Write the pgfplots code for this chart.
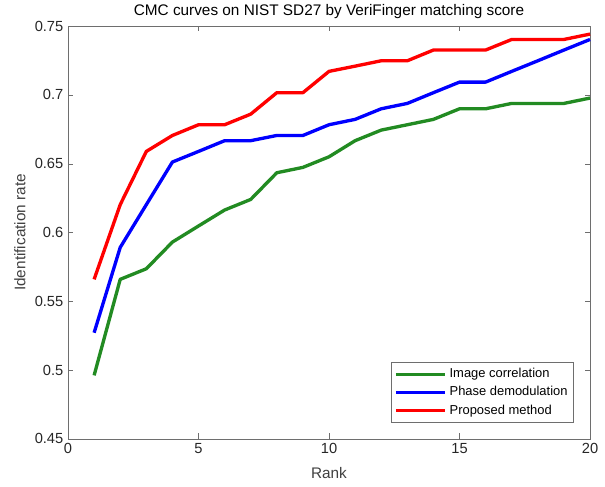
\documentclass[border=0pt]{standalone}
\usepackage{fontspec}
\setmainfont{Liberation Sans}
\usepackage{pgfplots}
\pgfplotsset{compat=1.18}

\definecolor{mgreen}{RGB}{34,139,34}
\definecolor{axgray}{RGB}{110,110,110}

\begin{document}
\begin{tikzpicture}
\begin{axis}[
    scale only axis,
    width=391.5pt, height=309.5pt,
    xmin=0, xmax=20, ymin=0.45, ymax=0.75,
    xtick={0,5,...,20},
    ytick={0.45,0.5,...,0.75},
    tick align=inside,
    tick pos=both,
    major tick length=4pt,
    axis line style={axgray},
    tick style={axgray},
    clip=false,
    /pgf/number format/assume math mode=true,
    ticklabel style={font=\fontsize{11}{13}\selectfont, text=black!85},
    yticklabel style={/pgf/number format/fixed, /pgf/number format/precision=2},
    title={CMC curves on NIST SD27 by VeriFinger matching score},
    title style={font=\fontsize{11.5}{13}\selectfont, yshift=-4pt},
    xlabel={Rank},
    ylabel={Identification rate},
    xlabel style={font=\fontsize{11.5}{13}\selectfont, text=black!75, yshift=-3pt},
    ylabel style={font=\fontsize{11.5}{13}\selectfont, text=black!75},
    legend cell align=left,
    legend style={font=\fontsize{9.7}{11}\selectfont, draw=axgray, inner sep=2.5pt,
        row sep=1pt, at={(0.969,0.04)}, anchor=south east},
    legend image code/.code={\draw[#1, line width=2.5pt] (0cm,0cm) -- (1.3cm,0cm);},
    every axis plot/.append style={line width=2.5pt, line join=round},
]
\addplot[mgreen] coordinates {
(1,0.4961) (2,0.5659) (3,0.5736) (4,0.5930) (5,0.6047) (6,0.6163) (7,0.6240)
(8,0.6434) (9,0.6473) (10,0.6550) (11,0.6667) (12,0.6744) (13,0.6783) (14,0.6822)
(15,0.6899) (16,0.6899) (17,0.6938) (18,0.6938) (19,0.6938) (20,0.6977)
};
\addplot[blue] coordinates {
(1,0.5271) (2,0.5891) (3,0.6202) (4,0.6512) (5,0.6589) (6,0.6667) (7,0.6667)
(8,0.6705) (9,0.6705) (10,0.6783) (11,0.6822) (12,0.6899) (13,0.6938) (14,0.7016)
(15,0.7093) (16,0.7093) (17,0.7171) (18,0.7248) (19,0.7326) (20,0.7403)
};
\addplot[red] coordinates {
(1,0.5659) (2,0.6202) (3,0.6589) (4,0.6705) (5,0.6783) (6,0.6783) (7,0.6860)
(8,0.7016) (9,0.7016) (10,0.7171) (11,0.7209) (12,0.7248) (13,0.7248) (14,0.7326)
(15,0.7326) (16,0.7326) (17,0.7403) (18,0.7403) (19,0.7403) (20,0.7442)
};
\legend{Image correlation, Phase demodulation, Proposed method}
% page margins as in the reference
\path (rel axis cs:-0.1303,-0.1146) rectangle (rel axis cs:1.0287,1.0606);
\end{axis}
\end{tikzpicture}
\end{document}
